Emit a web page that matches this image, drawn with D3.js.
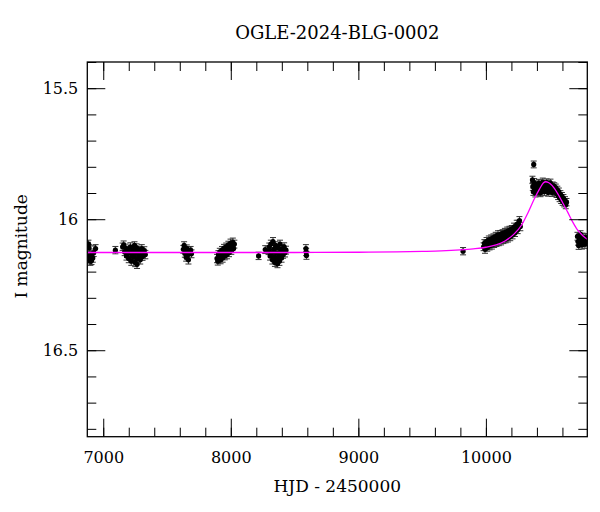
<!DOCTYPE html>
<html>
<head>
<meta charset="utf-8">
<script src="https://cdn.jsdelivr.net/npm/d3@7"></script>
<style>
  body { margin: 0; background: #fff; }
  text { font-family: "DejaVu Serif", serif; fill: #000; }
</style>
</head>
<body>
<script>
// Light curve data, one array per observing season: [HJD-2450000, I mag, error]
var season2016 = [
  [6880,16.102,0.014],[6884,16.095,0.015],[6888,16.110,0.014],[6891,16.140,0.016],
  [6895,16.152,0.015],[6899,16.160,0.016],[6903,16.145,0.014],[6908,16.158,0.015],
  [6912,16.135,0.015],[6918,16.148,0.016],[6925,16.128,0.014],[6940,16.112,0.015],
  [7095,16.118,0.014]
];
var season2017 = [
  [7152,16.105,0.014],[7160,16.098,0.015],[7168,16.125,0.014],[7175,16.110,0.015],
  [7182,16.140,0.016],[7188,16.132,0.014],[7195,16.118,0.015],[7200,16.150,0.016],
  [7207,16.128,0.014],[7213,16.105,0.015],[7220,16.160,0.016],[7226,16.138,0.015],
  [7232,16.115,0.014],[7238,16.145,0.015],[7244,16.122,0.014],[7250,16.165,0.016],
  [7255,16.130,0.015],[7261,16.108,0.014],[7267,16.150,0.016],[7272,16.125,0.015],
  [7278,16.140,0.014],[7284,16.118,0.015],[7290,16.155,0.016],[7296,16.132,0.014],
  [7302,16.112,0.015],[7308,16.142,0.015],[7315,16.128,0.014],[7322,16.120,0.015],
  [7330,16.135,0.016],[7245,16.100,0.014],[7265,16.172,0.016]
];
var season2018 = [
  [7628,16.115,0.015],[7634,16.100,0.014],[7640,16.130,0.015],[7645,16.120,0.016],
  [7650,16.145,0.015],[7655,16.112,0.014],[7660,16.138,0.015],[7668,16.155,0.016],
  [7675,16.125,0.015],[7685,16.118,0.014],[7692,16.132,0.015]
];
var season2019 = [
  [7892,16.150,0.016],[7898,16.160,0.015],[7903,16.135,0.015],[7909,16.145,0.016],
  [7914,16.125,0.014],[7920,16.155,0.015],[7925,16.138,0.015],[7931,16.118,0.014],
  [7936,16.148,0.016],[7942,16.130,0.015],[7947,16.110,0.014],[7953,16.140,0.015],
  [7958,16.122,0.015],[7964,16.105,0.014],[7970,16.135,0.016],[7975,16.115,0.015],
  [7981,16.098,0.014],[7986,16.128,0.015],[7992,16.108,0.015],[7998,16.092,0.016],
  [8004,16.120,0.014],[8010,16.100,0.015],[8016,16.088,0.016],[8022,16.112,0.015],
  [8028,16.095,0.015]
];
var season2020 = [
  [8218,16.140,0.014],[8270,16.116,0.015],
  [8296,16.120,0.015],[8302,16.105,0.014],[8308,16.140,0.016],[8314,16.095,0.015],
  [8320,16.130,0.014],[8326,16.155,0.016],[8331,16.085,0.015],[8336,16.115,0.014],
  [8341,16.145,0.016],[8346,16.165,0.015],[8351,16.100,0.014],[8356,16.128,0.015],
  [8361,16.150,0.016],[8366,16.170,0.015],[8371,16.110,0.014],[8376,16.138,0.015],
  [8381,16.160,0.016],[8386,16.095,0.015],[8392,16.122,0.014],[8398,16.148,0.016],
  [8404,16.112,0.015],[8410,16.135,0.014],[8418,16.105,0.015],[8425,16.128,0.016],
  [8433,16.118,0.015]
];
var season2021 = [
  [8589,16.112,0.015],[8591,16.125,0.014],[8593,16.138,0.015]
];
var season2023 = [
  [9821,16.122,0.014],
  [9982,16.105,0.015],[9988,16.092,0.014],[9993,16.115,0.015],[9999,16.098,0.016],
  [10005,16.085,0.015],[10011,16.108,0.014],[10017,16.094,0.015],[10023,16.080,0.016],
  [10029,16.102,0.015],[10035,16.088,0.014],[10041,16.075,0.015],[10047,16.098,0.016],
  [10053,16.084,0.015],[10059,16.070,0.014],[10065,16.093,0.015],[10071,16.079,0.016],
  [10077,16.065,0.015],[10083,16.090,0.014],[10089,16.076,0.015],[10095,16.060,0.016],
  [10101,16.086,0.015],[10107,16.072,0.014],[10113,16.058,0.015],[10119,16.082,0.016],
  [10125,16.068,0.015],[10131,16.054,0.014],[10137,16.078,0.015],[10143,16.064,0.016],
  [10149,16.050,0.015],[10155,16.076,0.014],[10161,16.060,0.015],[10167,16.046,0.016],
  [10173,16.072,0.015],[10179,16.056,0.014],[10185,16.042,0.015],[10191,16.066,0.016],
  [10197,16.050,0.015],[10203,16.038,0.014],[10209,16.060,0.015],[10215,16.044,0.016],
  [10221,16.030,0.015],[10228,16.052,0.014],[10235,16.036,0.015],[10242,16.020,0.016],
  [10249,16.040,0.015],[10256,16.018,0.014],[10263,16.005,0.015],[10270,16.028,0.016]
];
var season2024 = [
  [10375,15.791,0.013],
  [10365,15.850,0.014],[10368,15.875,0.015],[10372,15.895,0.014],[10378,15.860,0.015],
  [10383,15.885,0.014],[10388,15.900,0.015],[10393,15.868,0.014],[10398,15.890,0.015],
  [10404,15.875,0.014],[10410,15.895,0.015],[10416,15.862,0.014],[10422,15.882,0.015],
  [10428,15.900,0.014],[10434,15.870,0.015],[10440,15.888,0.014],[10446,15.858,0.015],
  [10452,15.878,0.014],[10458,15.895,0.015],[10464,15.865,0.014],[10470,15.885,0.015],
  [10476,15.860,0.014],[10482,15.880,0.015],[10488,15.898,0.014],[10494,15.868,0.015],
  [10500,15.886,0.014],[10506,15.862,0.015],[10512,15.880,0.014],[10518,15.898,0.015],
  [10524,15.872,0.014],[10530,15.890,0.015],[10536,15.875,0.014],[10542,15.895,0.015],
  [10548,15.880,0.014],[10554,15.902,0.015],[10560,15.888,0.014],[10566,15.910,0.015],
  [10572,15.895,0.014],[10578,15.918,0.015],[10584,15.905,0.014],[10590,15.925,0.015],
  [10596,15.912,0.014],[10602,15.932,0.015],[10608,15.920,0.014],[10614,15.938,0.015],
  [10620,15.928,0.014],[10626,15.945,0.015],[10632,15.935,0.014]
];
var season2025 = [
  [10718,16.065,0.015],[10722,16.085,0.014],[10727,16.100,0.015],[10732,16.072,0.016],
  [10737,16.090,0.015],[10742,16.058,0.014],[10748,16.080,0.015],[10753,16.098,0.016],
  [10758,16.068,0.015],[10764,16.088,0.014],[10770,16.075,0.015],[10776,16.095,0.016],
  [10782,16.070,0.015],[10788,16.085,0.014],[10794,16.078,0.015]
];

// Model curve
var modelHJD = [6875, 7500, 8000, 8500, 9000, 9300, 9500, 9650, 9800, 9900, 10000,
                10080, 10150, 10220, 10280, 10330, 10380, 10420, 10450, 10470, 10490,
                10520, 10560, 10600, 10640, 10680, 10720, 10760, 10800];
var modelMag = [16.127, 16.127, 16.127, 16.127, 16.126, 16.125, 16.123, 16.121, 16.117,
                16.113, 16.107, 16.098, 16.083, 16.057, 16.022, 15.975, 15.922, 15.885,
                15.862, 15.857, 15.860, 15.872, 15.900, 15.935, 15.972, 16.010, 16.042,
                16.063, 16.078];

var xMajor = [7000, 8000, 9000, 10000];
var xMinor = [7000, 7200, 7400, 7600, 7800, 8000, 8200, 8400, 8600, 8800, 9000, 9200,
              9400, 9600, 9800, 10000, 10200, 10400, 10600];
var yMajor = [15.5, 16, 16.5];
var yMinor = [15.4, 15.5, 15.6, 15.7, 15.8, 15.9, 16, 16.1, 16.2, 16.3, 16.4, 16.5,
              16.6, 16.7, 16.8];
var title = "OGLE-2024-BLG-0002";

var points = [].concat(season2016, season2017, season2018, season2019, season2020,
                       season2021, season2023, season2024, season2025);

var margin = {left: 87.3, right: 12.7, top: 62, bottom: 75.3},
    width = 600 - margin.left - margin.right,
    height = 512 - margin.top - margin.bottom;

var svg = d3.select("body").append("svg")
    .attr("width", 600)
    .attr("height", 512);

var g = svg.append("g")
    .attr("transform", "translate(" + margin.left + "," + margin.top + ")");

var scaleX = d3.scaleLinear().domain([6875, 10795]).range([0, width]);
var scaleY = d3.scaleLinear().domain([15.4, 16.83]).range([0, height]);

g.append("clipPath").attr("id", "clip")
    .append("rect").attr("width", width).attr("height", height);

var plot = g.append("g").attr("clip-path", "url(#clip)");

// error bars
var bars = plot.selectAll(".eb").data(points).enter().append("g")
    .attr("class", "eb")
    .attr("stroke", "#333")
    .attr("stroke-width", 1);
bars.append("line")
    .attr("x1", function(d) { return scaleX(d[0]); })
    .attr("x2", function(d) { return scaleX(d[0]); })
    .attr("y1", function(d) { return scaleY(d[1] - d[2]); })
    .attr("y2", function(d) { return scaleY(d[1] + d[2]); });
bars.selectAll(".cap").data(function(d) { return [[d[0], d[1] - d[2]], [d[0], d[1] + d[2]]]; })
    .enter().append("line")
    .attr("x1", function(d) { return scaleX(d[0]) - 3; })
    .attr("x2", function(d) { return scaleX(d[0]) + 3; })
    .attr("y1", function(d) { return scaleY(d[1]); })
    .attr("y2", function(d) { return scaleY(d[1]); });

plot.selectAll(".pt").data(points).enter().append("circle")
    .attr("cx", function(d) { return scaleX(d[0]); })
    .attr("cy", function(d) { return scaleY(d[1]); })
    .attr("r", 2.6)
    .attr("fill", "#000");

// model
var line = d3.line()
    .x(function(d, i) { return scaleX(modelHJD[i]); })
    .y(function(d) { return scaleY(d); })
    .curve(d3.curveMonotoneX);
plot.append("path")
    .attr("d", line(modelMag))
    .attr("fill", "none")
    .attr("stroke", "#ff00ff")
    .attr("stroke-width", 1.3);

// axes, ticks inward on all four sides
function styleAxis(sel) {
    sel.select(".domain").remove();
    sel.selectAll("line").attr("stroke", "#000").attr("stroke-width", 1);
    sel.selectAll("text").attr("font-family", "DejaVu Serif").attr("font-size", 16).attr("fill", "#000");
}
g.append("g").attr("transform", "translate(0," + height + ")")
    .call(d3.axisBottom(scaleX).tickValues(xMinor).tickSize(-9).tickFormat(""))
    .call(styleAxis);
g.append("g").attr("transform", "translate(0," + height + ")")
    .call(d3.axisBottom(scaleX).tickValues(xMajor).tickSize(-18).tickPadding(15).tickFormat(d3.format("d")))
    .call(styleAxis);
g.append("g")
    .call(d3.axisTop(scaleX).tickValues(xMinor).tickSize(-9).tickFormat(""))
    .call(styleAxis);
g.append("g")
    .call(d3.axisTop(scaleX).tickValues(xMajor).tickSize(-18).tickFormat(""))
    .call(styleAxis);
g.append("g")
    .call(d3.axisLeft(scaleY).tickValues(yMinor).tickSize(-9).tickFormat(""))
    .call(styleAxis);
g.append("g")
    .call(d3.axisLeft(scaleY).tickValues(yMajor).tickSize(-18).tickPadding(9).tickFormat(function(d) { return String(d); }))
    .call(styleAxis);
g.append("g").attr("transform", "translate(" + width + ",0)")
    .call(d3.axisRight(scaleY).tickValues(yMinor).tickSize(-9).tickFormat(""))
    .call(styleAxis);
g.append("g").attr("transform", "translate(" + width + ",0)")
    .call(d3.axisRight(scaleY).tickValues(yMajor).tickSize(-18).tickFormat(""))
    .call(styleAxis);

g.append("rect")
    .attr("width", width).attr("height", height)
    .attr("fill", "none").attr("stroke", "#000").attr("stroke-width", 1.3);

// labels
svg.append("text")
    .attr("x", margin.left + width / 2).attr("y", 39)
    .attr("text-anchor", "middle").attr("font-size", 18)
    .text(title);
svg.append("text")
    .attr("x", margin.left + width / 2).attr("y", 491.5)
    .attr("text-anchor", "middle").attr("font-size", 17)
    .text("HJD - 2450000");
svg.append("text")
    .attr("transform", "translate(27," + (margin.top + height / 2 - 3) + ") rotate(-90)")
    .attr("text-anchor", "middle").attr("font-size", 17)
    .text("I magnitude");
</script>
</body>
</html>
